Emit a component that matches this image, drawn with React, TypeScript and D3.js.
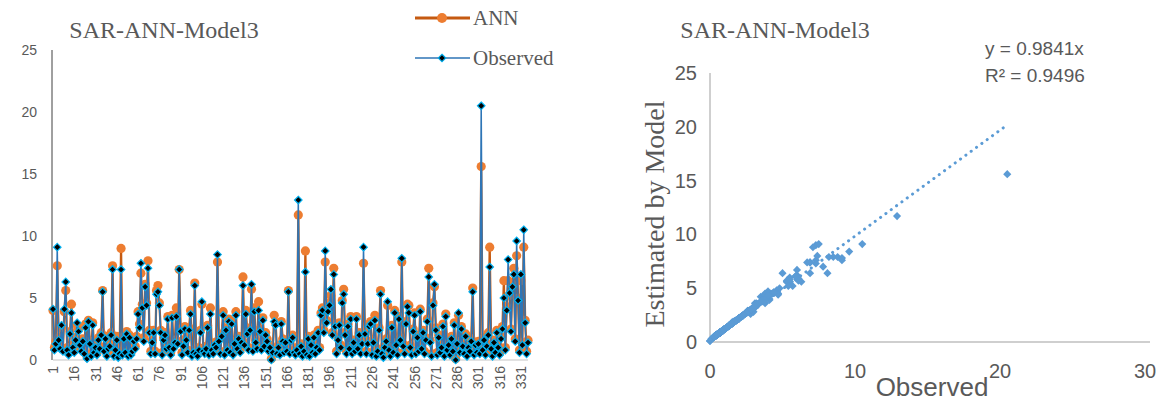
import React from 'react'
import * as d3 from 'd3'

// observed and ANN values, one per sample (336 samples)
const observed = [
  4.1, 0.8, 1.3, 9.1, 1.6, 0.9, 2.8, 0.7, 4.1, 6.3, 0.8, 0.4, 2.1, 3.8, 1.0, 0.6, 1.6, 3.0, 2.3, 1.2,
  0.7, 1.5, 0.5, 2.6, 0.1, 3.1, 1.3, 0.3, 2.8, 0.6, 1.0, 0.4, 1.6, 0.9, 2.0, 5.5, 0.7, 1.7, 0.3, 0.9,
  1.1, 2.0, 7.3, 0.3, 0.8, 1.6, 0.2, 0.5, 7.3, 0.4, 1.7, 0.6, 2.1, 0.3, 1.8, 0.4, 0.7, 1.5, 0.9, 1.7,
  3.7, 2.6, 7.8, 4.2, 1.5, 5.9, 4.4, 7.4, 2.2, 0.5, 1.4, 2.2, 0.5, 5.3, 5.5, 4.4, 2.2, 0.4, 1.6, 2.0,
  0.9, 3.3, 1.0, 0.4, 3.4, 0.9, 1.4, 3.5, 1.3, 7.3, 2.3, 0.4, 1.1, 2.5, 1.6, 0.6, 2.4, 3.7, 0.3, 0.6,
  6.0, 0.5, 0.3, 0.8, 2.2, 4.7, 0.7, 0.5, 0.9, 2.6, 0.4, 3.7, 0.8, 0.5, 1.2, 1.0, 8.5, 1.5, 0.5, 1.9,
  3.6, 0.4, 2.4, 0.8, 3.1, 0.6, 2.9, 0.4, 1.3, 3.6, 0.9, 1.7, 0.6, 1.4, 6.0, 1.2, 3.7, 2.1, 0.8, 2.4,
  6.1, 0.7, 3.9, 1.4, 0.9, 4.0, 2.3, 0.8, 3.2, 1.1, 2.0, 1.5, 0.7, 1.0, 0.0, 0.6, 3.1, 2.8, 0.5, 1.0,
  0.4, 2.9, 1.5, 0.6, 1.4, 0.7, 5.5, 0.5, 1.6, 1.8, 0.6, 0.4, 0.8, 12.9, 0.5, 1.1, 0.3, 0.7, 7.1, 0.4,
  1.7, 0.3, 1.2, 0.6, 1.8, 0.5, 1.0, 2.2, 0.8, 3.6, 4.0, 2.2, 8.8, 3.0, 3.9, 4.4, 5.7, 2.0, 6.9, 2.7,
  0.5, 1.6, 2.8, 1.0, 4.6, 5.3, 2.0, 0.5, 2.7, 0.9, 3.3, 0.5, 1.4, 0.7, 3.3, 0.9, 2.0, 0.5, 1.3, 9.1,
  2.1, 0.5, 1.3, 2.7, 2.9, 0.4, 1.4, 3.2, 0.3, 0.7, 2.4, 5.3, 0.5, 0.2, 1.0, 1.5, 4.7, 0.8, 0.3, 2.6,
  0.6, 3.8, 1.2, 0.4, 3.3, 1.6, 8.2, 1.1, 0.5, 2.9, 4.3, 3.8, 1.0, 0.4, 2.3, 3.6, 0.5, 1.8, 0.7, 3.9,
  0.9, 2.2, 0.5, 1.6, 3.1, 6.7, 1.4, 0.3, 4.4, 6.1, 2.4, 0.4, 1.8, 0.6, 1.0, 2.7, 0.3, 3.5, 0.8, 1.2,
  0.4, 1.7, 0.7, 2.8, 0.0, 1.3, 3.8, 0.6, 2.5, 1.1, 0.5, 1.9, 0.3, 1.0, 0.7, 1.5, 5.5, 0.4, 1.2, 0.6,
  1.3, 0.5, 20.5, 0.8, 1.6, 0.4, 1.1, 2.0, 7.5, 0.9, 0.3, 1.4, 0.6, 2.2, 1.0, 0.4, 1.7, 2.5, 5.0, 0.8,
  4.0, 8.1, 5.4, 2.3, 5.9, 6.9, 1.5, 9.6, 4.8, 0.6, 6.9, 1.2, 10.5, 3.0, 0.5, 1.4,
]

const ann = [
  4.0, 1.0, 1.5, 7.6, 1.8, 1.1, 2.6, 0.9, 3.9, 5.6, 1.0, 0.6, 2.3, 4.5, 1.2, 0.8, 1.8, 2.8, 2.5, 1.4,
  0.9, 1.7, 0.7, 2.9, 0.3, 3.2, 1.5, 0.5, 3.0, 0.8, 1.2, 0.6, 1.8, 1.1, 2.2, 5.6, 0.9, 1.9, 0.5, 1.1,
  1.3, 2.2, 7.6, 0.5, 1.0, 1.9, 0.4, 0.7, 9.0, 0.6, 1.9, 0.8, 2.3, 0.5, 2.0, 0.6, 0.9, 1.7, 1.1, 1.9,
  3.9, 2.9, 7.0, 4.5, 1.8, 6.1, 4.6, 8.0, 2.4, 0.7, 1.6, 2.4, 0.7, 5.6, 6.0, 4.6, 2.4, 0.6, 1.8, 2.2,
  1.1, 3.5, 1.2, 0.6, 3.6, 1.1, 1.6, 4.2, 1.5, 7.3, 2.5, 0.6, 1.3, 2.7, 1.8, 0.8, 2.6, 4.0, 0.5, 0.8,
  6.2, 0.7, 0.5, 1.0, 2.4, 4.5, 0.9, 0.7, 1.1, 2.8, 0.6, 4.2, 1.0, 0.7, 1.4, 1.2, 7.9, 1.7, 0.7, 2.1,
  3.9, 0.6, 2.6, 1.0, 3.3, 0.8, 3.1, 0.6, 1.5, 3.9, 1.1, 1.9, 0.8, 1.6, 6.7, 1.4, 4.0, 2.3, 1.0, 2.6,
  5.7, 0.9, 4.2, 1.6, 1.1, 4.7, 2.5, 1.0, 3.4, 1.3, 2.2, 1.7, 0.9, 1.2, 0.1, 0.8, 3.6, 3.0, 0.7, 1.2,
  0.6, 3.1, 1.7, 0.8, 1.6, 0.9, 5.6, 0.7, 1.8, 2.0, 0.8, 0.6, 1.0, 11.7, 0.7, 1.3, 0.5, 0.9, 8.8, 0.6,
  1.9, 0.5, 1.4, 0.8, 2.0, 0.7, 1.2, 2.4, 1.0, 3.8, 4.2, 2.4, 7.9, 3.2, 4.1, 4.6, 5.2, 2.2, 7.4, 2.9,
  0.7, 1.8, 3.0, 1.2, 4.8, 5.7, 2.2, 0.7, 2.9, 1.1, 3.5, 0.7, 1.6, 0.9, 3.5, 1.1, 2.2, 0.7, 1.5, 7.8,
  2.3, 0.7, 1.5, 2.9, 3.1, 0.6, 1.6, 3.6, 0.5, 0.9, 2.6, 5.6, 0.7, 0.4, 1.2, 1.7, 4.4, 1.0, 0.5, 2.8,
  0.8, 4.0, 1.4, 0.6, 3.5, 1.8, 7.9, 1.3, 0.7, 3.1, 4.5, 4.4, 1.2, 0.6, 2.5, 3.8, 0.7, 2.0, 0.9, 4.1,
  1.1, 2.4, 0.7, 1.8, 3.3, 7.4, 1.6, 0.5, 4.6, 5.9, 2.6, 0.6, 2.0, 0.8, 1.2, 2.9, 0.5, 3.7, 1.0, 1.4,
  0.6, 1.9, 0.9, 3.0, 0.1, 1.5, 3.6, 0.8, 2.7, 1.3, 0.7, 2.1, 0.5, 1.2, 0.9, 1.7, 5.8, 0.6, 1.4, 0.8,
  1.5, 0.7, 15.6, 1.0, 1.8, 0.6, 1.3, 2.2, 9.1, 1.1, 0.5, 1.6, 0.8, 2.4, 1.2, 0.6, 1.9, 2.7, 6.4, 1.0,
  4.3, 6.4, 5.2, 2.5, 6.1, 7.4, 1.7, 8.4, 5.0, 0.8, 6.4, 1.4, 9.1, 3.2, 0.7, 1.6,
]

const yTicks = [0, 5, 10, 15, 20, 25]
const scatterXTicks = [0, 10, 20, 30]
const slope = 0.9841
const trendLabel = 'y = 0.9841x'
const r2Label = 'R² = 0.9496'
const title = 'SAR-ANN-Model3'

const GRAY = '#595959'
const SANS = "'Liberation Sans', Arial, sans-serif"
const SERIF = "'Liberation Serif', 'Times New Roman', serif"

const App: React.FC = () => {
  const n = observed.length
  const idx = d3.range(1, n + 1)
  const xTickIdx = idx.filter(i => (i - 1) % 15 === 0)

  // left: line chart
  const x = d3.scaleLinear().domain([1, n]).range([53, 528])
  const y = d3.scaleLinear().domain([0, 25]).range([360, 50])

  const line = d3.line<number>()
    .x((_, i) => x(i + 1))
    .y(d => y(d))

  const diamondType = (d3 as any).symbolDiamond2 || d3.symbolDiamond
  const diamond = d3.symbol().type(diamondType).size(36)()
  const smallDiamond = d3.symbol().type(diamondType).size(42)()

  // right: scatter
  const sx = d3.scaleLinear().domain([0, 30]).range([710, 1145])
  const sy = d3.scaleLinear().domain([0, 25]).range([342, 73])
  const maxObs = d3.max(observed) as number

  return (
    <svg width={1162} height={403} style={{ position: 'absolute', left: 0, top: 0, background: '#fff' }}>
      {/* ===== left chart ===== */}
      <text x={164} y={38} textAnchor="middle" fontFamily={SERIF} fontSize={24} fill={GRAY}>{title}</text>

      {/* legend */}
      <line x1={415} x2={470} y1={18} y2={18} stroke="#c55a11" strokeWidth={3} />
      <circle cx={442} cy={18} r={5} fill="#ed7d31" />
      <text x={473} y={25} fontFamily={SERIF} fontSize={21} fill={GRAY}>ANN</text>
      <line x1={415} x2={470} y1={58} y2={58} stroke="#2e75b6" strokeWidth={1.5} />
      <path d={diamond as string} transform="translate(442,58)" fill="#000" stroke="#00b0f0" strokeWidth={1.2} />
      <text x={473} y={65} fontFamily={SERIF} fontSize={21} fill={GRAY}>Observed</text>

      {/* axes */}
      <line x1={x(1)} x2={x(n)} y1={y(0)} y2={y(0)} stroke="#d9d9d9" strokeWidth={1.5} />
      <line x1={52} x2={52} y1={y(25)} y2={y(0)} stroke="#404040" strokeWidth={1} />
      {yTicks.map(t => (
        <text key={t} x={37} y={y(t) + 5} textAnchor="end" fontFamily={SANS} fontSize={14} fill={GRAY}>{t}</text>
      ))}
      {xTickIdx.map(i => (
        <text key={i} transform={`translate(${x(i) + 5},366) rotate(-90)`} textAnchor="end"
          fontFamily={SANS} fontSize={14} fill={GRAY}>{i}</text>
      ))}

      {/* ANN series */}
      <path d={line(ann) as string} fill="none" stroke="#c55a11" strokeWidth={2.25} strokeLinejoin="round" />
      {ann.map((v, i) => (
        <circle key={'a' + i} cx={x(i + 1)} cy={y(v)} r={4.6} fill="#ed7d31" />
      ))}

      {/* Observed series */}
      <path d={line(observed) as string} fill="none" stroke="#2e75b6" strokeWidth={1.5} strokeLinejoin="round" />
      {observed.map((v, i) => (
        <path key={'o' + i} d={diamond as string} transform={`translate(${x(i + 1)},${y(v)})`}
          fill="#000" stroke="#00b0f0" strokeWidth={1.2} />
      ))}

      {/* ===== right chart ===== */}
      <text x={775} y={38} textAnchor="middle" fontFamily={SERIF} fontSize={24} fill={GRAY}>{title}</text>
      <text x={985} y={55} fontFamily={SANS} fontSize={19} fill={GRAY}>{trendLabel}</text>
      <text x={985} y={82} fontFamily={SANS} fontSize={19} fill={GRAY}>{r2Label}</text>

      <line x1={sx(0)} x2={1150} y1={sy(0)} y2={sy(0)} stroke="#bfbfbf" strokeWidth={1.5} />
      <line x1={sx(0)} x2={sx(0)} y1={sy(25)} y2={sy(0)} stroke="#bfbfbf" strokeWidth={1.5} />
      {yTicks.map(t => (
        <text key={'sy' + t} x={697} y={sy(t) + 7} textAnchor="end" fontFamily={SANS} fontSize={20} fill={GRAY}>{t}</text>
      ))}
      {scatterXTicks.map(t => (
        <text key={'sx' + t} x={sx(t)} y={378} textAnchor="middle" fontFamily={SANS} fontSize={20} fill={GRAY}>{t}</text>
      ))}
      <text transform={`translate(664,214) rotate(-90)`} textAnchor="middle" fontFamily={SERIF} fontSize={28} fill={GRAY}>
        Estimated by Model
      </text>
      <text x={932} y={396} textAnchor="middle" fontFamily={SANS} fontSize={26} fill={GRAY}>Observed</text>

      {/* trend line */}
      <line x1={sx(0)} y1={sy(0)} x2={sx(maxObs)} y2={sy(maxObs * slope)} stroke="#5b9bd5"
        strokeWidth={3} strokeDasharray="0.1 6.5" strokeLinecap="round" />

      {observed.map((v, i) => (
        <path key={'s' + i} d={smallDiamond as string} transform={`translate(${sx(v)},${sy(ann[i])})`} fill="#5b9bd5" />
      ))}
    </svg>
  )
}

export default App
